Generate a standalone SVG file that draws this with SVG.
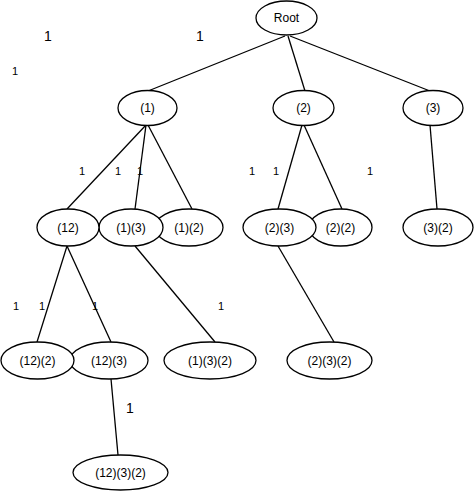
<svg xmlns="http://www.w3.org/2000/svg" width="475" height="493" viewBox="0 0 475 493">
<style>
.n ellipse{fill:#fff;stroke:#000;stroke-width:1.3}
.n text{font-family:"Liberation Sans",Arial,sans-serif;font-size:12px;text-anchor:middle;dominant-baseline:central;fill:#000}
#edges line{stroke:#000;stroke-width:1.3}
.l{font-family:"Liberation Sans",Arial,sans-serif;font-size:11px;text-anchor:middle;dominant-baseline:central;fill:#000}
.lb{font-size:14px}
</style>
<rect width="475" height="493" fill="#fff"/>
<g id="edges">
<line x1="285" y1="36" x2="148" y2="91"/>
<line x1="288" y1="36" x2="305" y2="91"/>
<line x1="290" y1="36" x2="430" y2="91"/>
<line x1="146" y1="125" x2="67" y2="209"/>
<line x1="146" y1="125" x2="135" y2="209"/>
<line x1="148" y1="125" x2="192" y2="209"/>
<line x1="302" y1="125" x2="278" y2="209"/>
<line x1="304" y1="125" x2="342" y2="209"/>
<line x1="430" y1="125" x2="437" y2="209"/>
<line x1="67" y1="246" x2="37" y2="342"/>
<line x1="67" y1="246" x2="111" y2="342"/>
<line x1="135" y1="246" x2="215" y2="342"/>
<line x1="278" y1="246" x2="334" y2="342"/>
<line x1="111" y1="379" x2="118" y2="455"/>
</g>
<g id="root" class="n"><ellipse cx="286.5" cy="18" rx="30.5" ry="17"/><text x="286.5" y="18">Root</text></g>
<g id="n1" class="n"><ellipse cx="147.5" cy="108" rx="29.5" ry="17.5"/><text x="147.5" y="108">(1)</text></g>
<g id="n2" class="n"><ellipse cx="303.5" cy="108" rx="30.5" ry="17.5"/><text x="303.5" y="108">(2)</text></g>
<g id="n3" class="n"><ellipse cx="433" cy="108" rx="30" ry="17.5"/><text x="433" y="108">(3)</text></g>
<g id="n1_2" class="n"><ellipse cx="189" cy="227.5" rx="34" ry="18.5"/><text x="189" y="227.5">(1)(2)</text></g>
<g id="n1_3" class="n"><ellipse cx="131" cy="227.5" rx="32" ry="18.5"/><text x="131" y="227.5">(1)(3)</text></g>
<g id="n12" class="n"><ellipse cx="68" cy="227.5" rx="31" ry="18.5"/><text x="68" y="227.5">(12)</text></g>
<g id="n2_2" class="n"><ellipse cx="340.5" cy="227.5" rx="31.5" ry="18.5"/><text x="340.5" y="227.5">(2)(2)</text></g>
<g id="n2_3" class="n"><ellipse cx="279.5" cy="227.5" rx="36.5" ry="18.5"/><text x="279.5" y="227.5">(2)(3)</text></g>
<g id="n3_2" class="n"><ellipse cx="438" cy="227.5" rx="35" ry="18.5"/><text x="438" y="227.5">(3)(2)</text></g>
<g id="n12_3" class="n"><ellipse cx="109" cy="360.5" rx="39" ry="18.5"/><text x="109" y="360.5">(12)(3)</text></g>
<g id="n12_2" class="n"><ellipse cx="37.5" cy="360.5" rx="36.5" ry="18.5"/><text x="37.5" y="360.5">(12)(2)</text></g>
<g id="n1_3_2" class="n"><ellipse cx="210" cy="360.5" rx="46" ry="18.5"/><text x="210" y="360.5">(1)(3)(2)</text></g>
<g id="n2_3_2" class="n"><ellipse cx="329.5" cy="360.5" rx="42.5" ry="18.5"/><text x="329.5" y="360.5">(2)(3)(2)</text></g>
<g id="n12_3_2" class="n"><ellipse cx="120.5" cy="472.5" rx="47.5" ry="17.5"/><text x="120.5" y="472.5">(12)(3)(2)</text></g>
<g id="labels">
<text class="l lb" x="48" y="36">1</text>
<text class="l lb" x="200" y="36">1</text>
<text class="l" x="15" y="71">1</text>
<text class="l" x="82" y="171">1</text>
<text class="l" x="118" y="171">1</text>
<text class="l" x="140" y="171">1</text>
<text class="l" x="252" y="171">1</text>
<text class="l" x="276" y="171">1</text>
<text class="l" x="370" y="171">1</text>
<text class="l" x="16" y="306">1</text>
<text class="l" x="42" y="306">1</text>
<text class="l" x="95" y="306">1</text>
<text class="l" x="221" y="306">1</text>
<text class="l lb" x="130" y="408">1</text>
</g>
</svg>
